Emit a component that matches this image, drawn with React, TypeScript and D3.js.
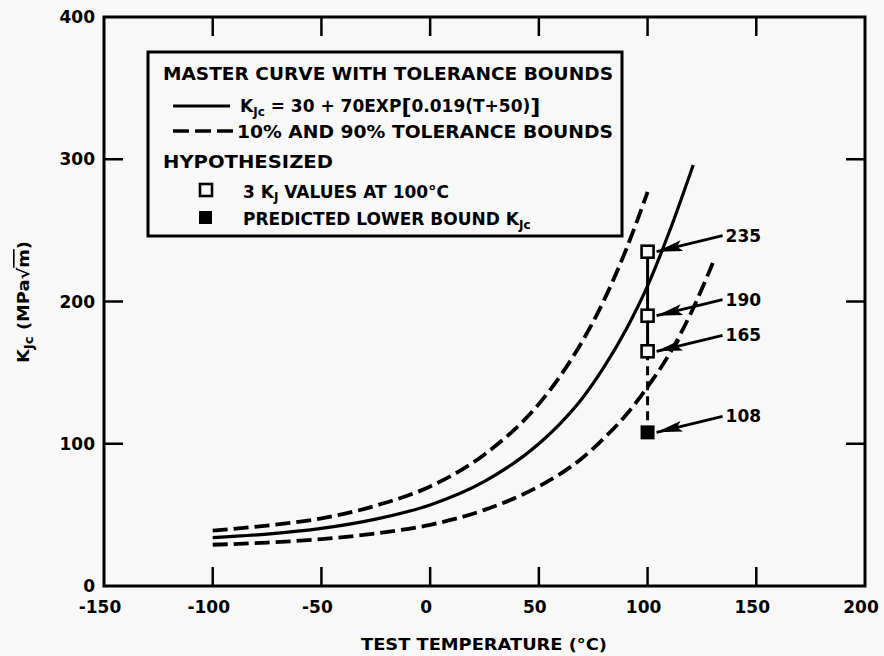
import * as React from "react";
import * as d3 from "d3";

// axis ticks
const xTicks = [-150, -100, -50, 0, 50, 100, 150, 200];
const xTickLabels = ["-150", "-100", "-50", "0", "50", "100", "150", "200"];
const yTicks = [0, 100, 200, 300, 400];
const yTickLabels = ["0", "100", "200", "300", "400"];
const innerXTicks = [-100, -50, 0, 50, 100, 150];
const innerYTicks = [100, 200, 300];

// curves (T in degC, KJc in MPa sqrt(m))
const masterTemps = [-100, -75, -50, -25, 0, 25, 50, 60, 70, 80, 90, 100, 110, 121];
const masterKjc = [34, 36.5, 40.5, 47, 57, 73.5, 100, 114.5, 132, 154, 180, 211, 249, 296];

const upperTemps = [-100, -75, -50, -25, 0, 25, 50, 60, 70, 80, 90, 100];
const upperKjc = [39, 42.5, 47.5, 56.5, 70, 92.5, 128, 148, 172, 201, 236, 277];

const lowerTemps = [-100, -75, -50, -25, 0, 25, 50, 60, 70, 80, 90, 100, 110, 120, 130];
const lowerKjc = [29, 30.5, 33, 37, 43, 53.5, 70, 79, 90, 104, 120, 140, 163, 192, 227];

// hypothesized data at 100C
const testTemp = 100;
const kjValues = [235, 190, 165];
const lowerBoundKjc = 108;

const W = 884;
const H = 656;
const FONT = "'DejaVu Sans', sans-serif";
const BG = "#f8f8f8";

export default function App() {
    const x = d3.scaleLinear().domain([-150, 200]).range([104, 865]);
    const y = d3.scaleLinear().domain([0, 400]).range([586, 17]);

    const line = d3.line<[number, number]>()
        .x(d => x(d[0]))
        .y(d => y(d[1]))
        .curve(d3.curveMonotoneX);

    const zip = (a: number[], b: number[]) => a.map((v, i) => [v, b[i]] as [number, number]);

    const tickLen = 19;
    const markerSize = 12;
    const px = x(testTemp);
    const allPts = [...kjValues, lowerBoundKjc];

    return (
        <svg width={W} height={H} style={{ position: "absolute", left: 0, top: 0, background: BG }}
            fontFamily={FONT} fontWeight="bold">
            <defs>
                <marker id="arrowhead" markerUnits="userSpaceOnUse" markerWidth={26} markerHeight={12}
                    refX={26} refY={6} orient="auto">
                    <path d="M0,0.5 L26,6 L0,11.5 L5,6 Z" fill="#000" />
                </marker>
            </defs>
            <rect x={0} y={0} width={W} height={H} fill={BG} />

            {/* frame */}
            <rect x={x(-150)} y={y(400)} width={x(200) - x(-150)} height={y(0) - y(400)}
                fill="none" stroke="#000" strokeWidth={3} />

            {/* inward ticks */}
            {innerXTicks.map(t => (
                <g key={"xt" + t} stroke="#000" strokeWidth={2.5}>
                    <line x1={x(t)} x2={x(t)} y1={y(0)} y2={y(0) - tickLen} />
                    <line x1={x(t)} x2={x(t)} y1={y(400)} y2={y(400) + tickLen} />
                </g>
            ))}
            {innerYTicks.map(t => (
                <g key={"yt" + t} stroke="#000" strokeWidth={2.5}>
                    <line x1={x(-150)} x2={x(-150) + tickLen} y1={y(t)} y2={y(t)} />
                    <line x1={x(200)} x2={x(200) - tickLen} y1={y(t)} y2={y(t)} />
                </g>
            ))}

            {/* tick labels */}
            {xTicks.map((t, i) => (
                <text key={"xl" + t} x={x(t) - 4} y={613} textAnchor="middle" fontSize={17}>{xTickLabels[i]}</text>
            ))}
            {yTicks.map((t, i) => (
                <text key={"yl" + t} x={95} y={y(t) + 6} textAnchor="end" fontSize={17}>{yTickLabels[i]}</text>
            ))}

            {/* axis titles */}
            <text x={484} y={650} textAnchor="middle" fontSize={16} textLength={246} lengthAdjust="spacingAndGlyphs">
                TEST TEMPERATURE (°C)
            </text>
            <text transform="translate(29,302) rotate(-90)" textAnchor="middle" fontSize={16}
                textLength={122} lengthAdjust="spacingAndGlyphs">
                <tspan>K</tspan>
                <tspan fontSize={12} dy={4}>Jc</tspan>
                <tspan dy={-4}> (MPa</tspan>
                <tspan>√</tspan>
                <tspan style={{ textDecoration: "overline" }}>m</tspan>
                <tspan>)</tspan>
            </text>

            {/* curves */}
            <path d={line(zip(upperTemps, upperKjc)) || ""} fill="none" stroke="#000" strokeWidth={3.8}
                strokeDasharray="15,6" />
            <path d={line(zip(lowerTemps, lowerKjc)) || ""} fill="none" stroke="#000" strokeWidth={3.8}
                strokeDasharray="15,6" />
            <path d={line(zip(masterTemps, masterKjc)) || ""} fill="none" stroke="#000" strokeWidth={3.2} />

            {/* connectors between hypothesized points */}
            <line x1={px} x2={px} y1={y(kjValues[0])} y2={y(kjValues[kjValues.length - 1])}
                stroke="#000" strokeWidth={3} />
            <line x1={px} x2={px} y1={y(kjValues[kjValues.length - 1])} y2={y(lowerBoundKjc)}
                stroke="#000" strokeWidth={3} strokeDasharray="9,6" />

            {/* markers */}
            {kjValues.map(v => (
                <rect key={"m" + v} x={px - markerSize / 2} y={y(v) - markerSize / 2}
                    width={markerSize} height={markerSize} fill={BG} stroke="#000" strokeWidth={2.6} />
            ))}
            <rect x={px - markerSize / 2} y={y(lowerBoundKjc) - markerSize / 2} width={markerSize} height={markerSize}
                fill="#000" stroke="#000" strokeWidth={2} />

            {/* value annotations with arrows */}
            {allPts.map(v => (
                <g key={"a" + v}>
                    <line x1={px + 75} y1={y(v) - 16} x2={px + markerSize / 2 + 3} y2={y(v)}
                        stroke="#000" strokeWidth={2.8} markerEnd="url(#arrowhead)" />
                    <text x={px + 78} y={y(v) - 10} fontSize={17}>{v}</text>
                </g>
            ))}

            {/* legend */}
            <g>
                <rect x={148} y={52} width={474} height={184} fill={BG} stroke="#000" strokeWidth={3} />
                <text x={163} y={80} fontSize={17} textLength={450} lengthAdjust="spacingAndGlyphs">
                    MASTER CURVE WITH TOLERANCE BOUNDS
                </text>
                <line x1={173} x2={230} y1={106} y2={106} stroke="#000" strokeWidth={3} />
                <text x={240} y={112} fontSize={17}>
                    <tspan>K</tspan>
                    <tspan fontSize={12} dy={4}>Jc</tspan>
                    <tspan dy={-4}>{" = 30 + 70EXP"}</tspan>
                    <tspan fontSize={22} dy={2}>[</tspan>
                    <tspan dy={-2}>0.019(T+50)</tspan>
                    <tspan fontSize={22} dy={2}>]</tspan>
                </text>
                <line x1={173} x2={235} y1={131} y2={131} stroke="#000" strokeWidth={3.5} strokeDasharray="16,6" />
                <text x={237} y={138} fontSize={17} textLength={376} lengthAdjust="spacingAndGlyphs">
                    10% AND 90% TOLERANCE BOUNDS
                </text>
                <text x={163} y={168} fontSize={17} textLength={170} lengthAdjust="spacingAndGlyphs">
                    HYPOTHESIZED
                </text>
                <rect x={200} y={184} width={12} height={12} fill={BG} stroke="#000" strokeWidth={2.6} />
                <text x={243} y={198} fontSize={17}>
                    <tspan>3 K</tspan>
                    <tspan fontSize={12} dy={3}>J</tspan>
                    <tspan dy={-3}> VALUES AT 100°C</tspan>
                </text>
                <rect x={199} y={211} width={13} height={13} fill="#000" />
                <text x={243} y={225} fontSize={17}>
                    <tspan>PREDICTED LOWER BOUND K</tspan>
                    <tspan fontSize={12} dy={4}>Jc</tspan>
                </text>
            </g>
        </svg>
    );
}
